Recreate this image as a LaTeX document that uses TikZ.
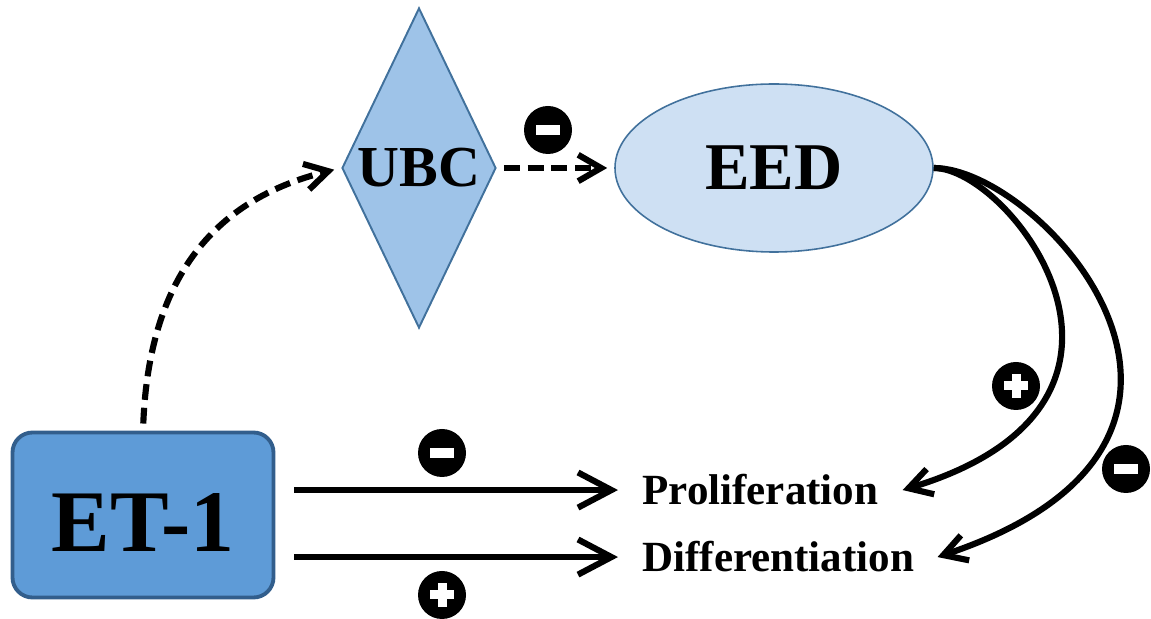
\documentclass[tikz,border=0pt]{standalone}
\usepackage{fontspec}
\setmainfont{Liberation Serif}
\usetikzlibrary{shapes.geometric,arrows.meta,calc}
\definecolor{etblue}{RGB}{94,155,215}
\definecolor{etborder}{RGB}{50,94,140}
\definecolor{ubcblue}{RGB}{158,195,232}
\definecolor{eedblue}{RGB}{206,224,243}
\definecolor{nodeborder}{RGB}{65,113,156}
\tikzset{
  bigarr/.style={line width=3.5pt, -{Straight Barb[length=19pt,width=20pt]}},
  smallarr/.style={line width=3.5pt, -{Straight Barb[length=13pt,width=15pt]}},
  dasharr/.style={smallarr, dash pattern=on 9pt off 4.5pt, shorten <=4pt, shorten >=4pt},
  signcircle/.style={circle, fill=black, minimum size=0.96cm, inner sep=0pt},
  signminus/.style={signcircle, path picture={
    \fill[white] ([shift={(-0.24,-0.1)}]path picture bounding box.center) rectangle ++(0.48,0.2);}},
  signplus/.style={signcircle, path picture={
    \fill[white] ([shift={(-0.24,-0.09)}]path picture bounding box.center) rectangle ++(0.48,0.18);
    \fill[white] ([shift={(-0.09,-0.24)}]path picture bounding box.center) rectangle ++(0.18,0.48);}},
}

\begin{document}
\begin{tikzpicture}
\useasboundingbox (0,0) rectangle (23.02,12.38);

\node[draw=etborder, line width=2.2pt, fill=etblue, rounded corners=0.4cm, minimum width=5.22cm, minimum height=3.3cm, text height=1.46cm] (ET) at (2.86,2.08) {\fontsize{50}{60}\selectfont\bfseries ET-1};
\node[diamond, draw=nodeborder, line width=1.1pt, fill=ubcblue, minimum width=3.08cm, minimum height=6.4cm, inner sep=0pt, shape aspect=0.48] (UBC) at (8.38,9.02) {\fontsize{33}{40}\selectfont\bfseries UBC};
\node[ellipse, draw=nodeborder, line width=0.9pt, fill=eedblue, minimum width=6.36cm, minimum height=3.36cm, inner sep=0pt] (EED) at (15.48,9.02) {\fontsize{38}{46}\selectfont\bfseries EED};

\node[anchor=base west, inner sep=0pt] (Pro) at (12.84,2.28) {\fontsize{24.5}{30}\selectfont\bfseries Proliferation};
\node[anchor=base west, inner sep=0pt] (Dif) at (12.84,0.94) {\fontsize{24.5}{30}\selectfont\bfseries Differentiation};

\draw[dasharr] (ET.north) .. controls +(0.14,3.46) and +(-2.16,-0.54) .. (UBC.west);
\draw[dasharr] (UBC.east) -- (EED.west);

\draw[bigarr] ($(ET.east |- Pro.west)+(0.38,0)$) -- ($(Pro.west)+(-0.48,0)$);
\draw[bigarr] ($(ET.east |- Dif.west)+(0.38,0)$) -- ($(Dif.west)+(-0.48,0)$);

\draw[smallarr] (EED.east) .. controls +(1.54,0) and +(5.76,1.74) .. ($(Pro.east)+(0.48,0)$);
\draw[smallarr] (EED.east) .. controls +(2.16,0) and +(7.0,2.34) .. ($(Dif.east)+(0.46,0)$);

\node[signminus] (m1) at (10.96,9.78) {};
\node[signminus] (m2) at (8.84,3.32) {};
\node[signplus] (p1) at (8.84,0.48) {};
\node[signplus] (p2) at (20.32,4.66) {};
\node[signminus] (m3) at (22.52,3.0) {};

\end{tikzpicture}
\end{document}
